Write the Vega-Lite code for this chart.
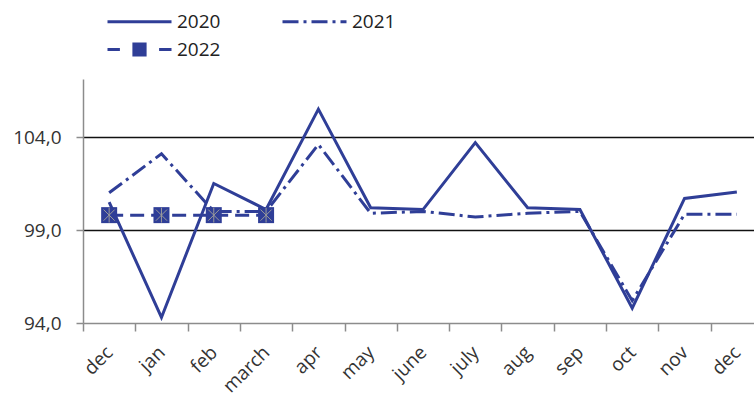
{
  "$schema": "https://vega.github.io/schema/vega-lite/v6.json",
  "width": 671,
  "height": 244,
  "autosize": {"type": "none"},
  "padding": {"left": 83, "top": 79, "right": 0, "bottom": 76},
  "config": {
    "view": {"stroke": null},
    "font": "Open Sans",
    "locale": {"number": {"decimal": ",", "thousands": ".", "grouping": [3], "currency": ["", " €"]}}
  },
  "data": {
    "values": [
      {"month": "dec", "year": "2020", "value": 100.5},
      {"month": "jan", "year": "2020", "value": 94.3},
      {"month": "feb", "year": "2020", "value": 101.5},
      {"month": "march", "year": "2020", "value": 100.1},
      {"month": "apr", "year": "2020", "value": 105.5},
      {"month": "may", "year": "2020", "value": 100.2},
      {"month": "june", "year": "2020", "value": 100.1},
      {"month": "july", "year": "2020", "value": 103.7},
      {"month": "aug", "year": "2020", "value": 100.2},
      {"month": "sep", "year": "2020", "value": 100.1},
      {"month": "oct", "year": "2020", "value": 94.8},
      {"month": "nov", "year": "2020", "value": 100.7},
      {"month": "dec ", "year": "2020", "value": 101.05},
      {"month": "dec", "year": "2021", "value": 101.0},
      {"month": "jan", "year": "2021", "value": 103.1},
      {"month": "feb", "year": "2021", "value": 100.0},
      {"month": "march", "year": "2021", "value": 100.0},
      {"month": "apr", "year": "2021", "value": 103.6},
      {"month": "may", "year": "2021", "value": 99.9},
      {"month": "june", "year": "2021", "value": 100.0},
      {"month": "july", "year": "2021", "value": 99.7},
      {"month": "aug", "year": "2021", "value": 99.9},
      {"month": "sep", "year": "2021", "value": 100.0},
      {"month": "oct", "year": "2021", "value": 95.2},
      {"month": "nov", "year": "2021", "value": 99.85},
      {"month": "dec ", "year": "2021", "value": 99.85},
      {"month": "dec", "year": "2022", "value": 99.8},
      {"month": "jan", "year": "2022", "value": 99.8},
      {"month": "feb", "year": "2022", "value": 99.8},
      {"month": "march", "year": "2022", "value": 99.8}
    ]
  },
  "encoding": {
    "x": {
      "field": "month",
      "type": "nominal",
      "sort": ["dec", "jan", "feb", "march", "apr", "may", "june", "july", "aug", "sep", "oct", "nov", "dec "],
      "scale": {"type": "band", "paddingInner": 0, "paddingOuter": 0, "range": [0, 680]},
      "axis": {
        "title": null,
        "labelAngle": -45,
        "labelAlign": "right",
        "labelBaseline": "middle",
        "labelFontSize": 19,
        "labelColor": "#333333",
        "labelPadding": 18,
        "tickBand": "extent",
        "tickColor": "#8c8c8c",
        "tickSize": 8,
        "tickWidth": 1.5,
        "domainColor": "#8c8c8c",
        "domainWidth": 1.5,
        "grid": false,
        "zindex": 1
      }
    },
    "y": {
      "field": "value",
      "type": "quantitative",
      "scale": {"domain": [94, 107.12], "nice": false, "zero": false},
      "axis": {
        "title": null,
        "values": [94, 99, 104],
        "format": ".1f",
        "labelFontSize": 19,
        "labelColor": "#333333",
        "labelPadding": 15,
        "domainColor": "#8c8c8c",
        "domainWidth": 1.5,
        "tickColor": "#8c8c8c",
        "tickSize": 7,
        "tickWidth": 1.5,
        "grid": true,
        "gridColor": {"condition": {"test": "datum.value === 94", "value": "transparent"}, "value": "#111111"},
        "gridWidth": 1.5
      }
    }
  },
  "layer": [
    {
      "mark": {"type": "line", "color": "#2f3e97", "strokeWidth": 3},
      "encoding": {
        "detail": {"field": "year"},
        "strokeDash": {
          "field": "year",
          "type": "nominal",
          "scale": {"domain": ["2020", "2021", "2022"], "range": [[5000, 0], [16, 5, 3, 5], [14, 7]]},
          "legend": {
            "title": null,
            "orient": "none",
            "legendX": 47,
            "legendY": -67,
            "direction": "horizontal",
            "columns": 2,
            "padding": 0,
            "symbolSize": 64,
            "symbolStrokeWidth": 3,
            "symbolStrokeColor": "#2f3e97",
            "labelFontSize": 19,
            "labelColor": "#222222",
            "labelOffset": 28,
            "columnPadding": 55,
            "rowPadding": 4,
            "encode": {
              "symbols": {
                "update": {
                  "shape": {"signal": "datum.label === '2022' ? 'M-8,0H-4.9M4.9,0H8M-1.4,-1.75V1.75M-0.7,-1.75V1.75M0,-1.75V1.75M0.7,-1.75V1.75M1.4,-1.75V1.75' : 'M-8,0H8'"},
                  "stroke": {"value": "#2f3e97"},
                  "strokeWidth": {"value": 3},
                  "fill": {"value": "transparent"},
                  "opacity": {"value": 1}
                }
              }
            }
          }
        }
      }
    },
    {
      "transform": [{"filter": "datum.year === '2022'"}],
      "mark": {"type": "point", "shape": "square", "size": 256, "filled": true, "color": "#2f3e97", "opacity": 1}
    },
    {
      "transform": [{"filter": "datum.year === '2022'"}],
      "mark": {"type": "point", "shape": "M-0.75,-0.75L0.75,0.75M-0.75,0.75L0.75,-0.75M0,-1L0,1", "size": 220, "filled": false, "color": "#9a9a9a", "strokeWidth": 1, "opacity": 1}
    }
  ]
}
